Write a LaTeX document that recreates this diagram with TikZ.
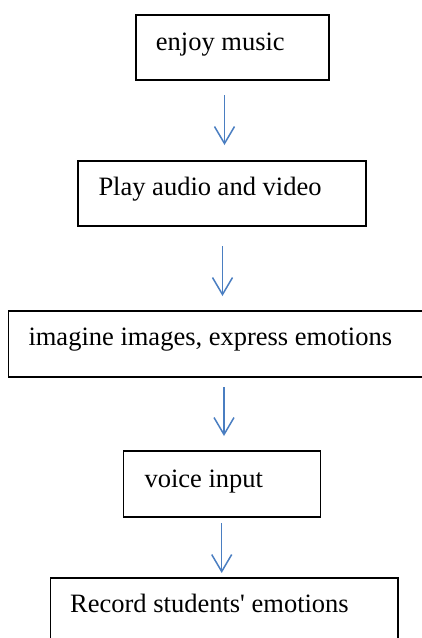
\documentclass[tikz,border=0pt]{standalone}
\usepackage{fontspec}
\setmainfont{Liberation Serif}
\usetikzlibrary{arrows.meta}
\definecolor{arrowblue}{RGB}{74,126,193}
\begin{document}
\begin{tikzpicture}[x=1pt,y=-1pt,
  stepbox/.style={draw=black, line width=1.1pt, rectangle, inner sep=0pt},
  steptext/.style={anchor=base west, inner sep=0pt, font=\fontsize{26.5}{30}\selectfont},
  flow/.style={draw=arrowblue, line width=1.5pt, -{Straight Barb[length=17pt,width=20pt,line width=1.5pt]}}]
\useasboundingbox (0,0) rectangle (422,638);
% boxes
\node[stepbox, minimum width=193pt, minimum height=65pt] (b1) at (232.5,47.5) {};
\node[stepbox, minimum width=288pt, minimum height=65pt] (b2) at (222,193.5) {};
\node[stepbox, minimum width=427pt, minimum height=66pt] (b3) at (222,344) {};
\node[stepbox, minimum width=197pt, minimum height=66pt] (b4) at (222,484) {};
\node[stepbox, minimum width=347.5pt, minimum height=80pt] (b5) at (224.25,618) {};
% texts
\node[steptext] (t1) at (155.7,50.5) {enjoy music};
\node[steptext] (t2) at (98.3,195.5) {Play audio and video};
\node[steptext] (t3) at (28.3,345.5) {imagine images, express emotions};
\node[steptext] (t4) at (144.3,487) {voice input};
\node[steptext] (t5) at (70,612) {Record students\textquotesingle\ emotions};
% arrow ends
\coordinate (a1s) at (224.5,95);  \coordinate (a1e) at (224.5,145);
\coordinate (a2s) at (222.5,246); \coordinate (a2e) at (222.5,296);
\coordinate (a3s) at (224,387);   \coordinate (a3e) at (224,436);
\coordinate (a4s) at (221.7,523); \coordinate (a4e) at (221.7,573);
\draw[flow] (a1s) -- (a1e);
\draw[flow] (a2s) -- (a2e);
\draw[flow] (a3s) -- (a3e);
\draw[flow] (a4s) -- (a4e);
\end{tikzpicture}
\end{document}
